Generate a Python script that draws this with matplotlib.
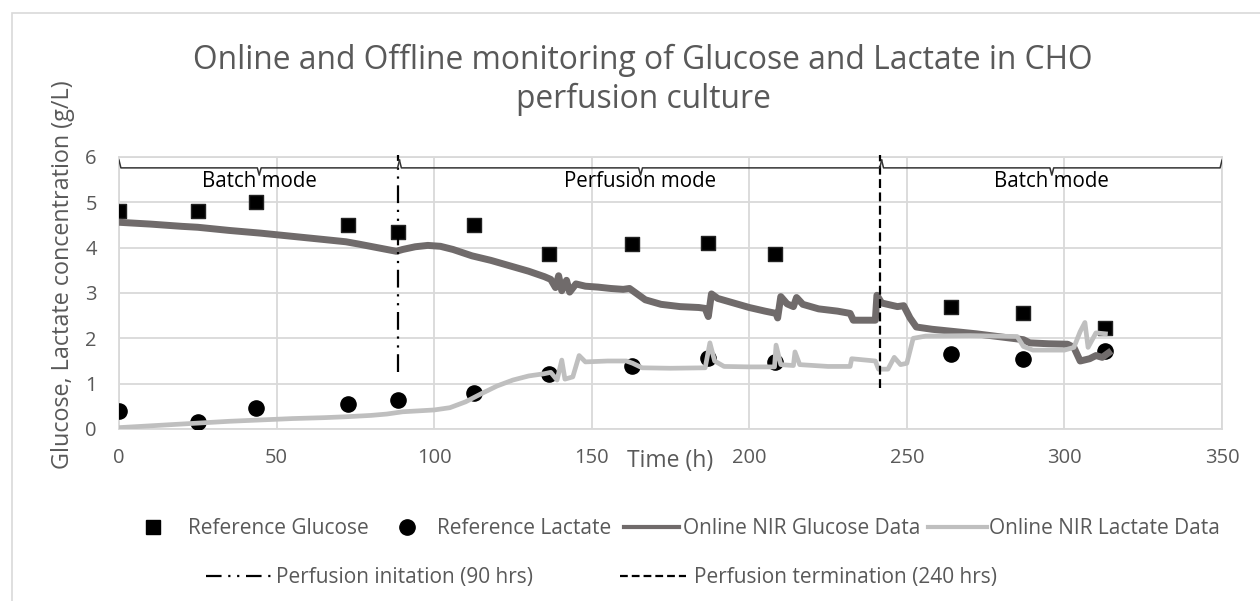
import matplotlib
matplotlib.use('Agg')
import matplotlib.pyplot as plt
from matplotlib.lines import Line2D
from matplotlib.patches import Rectangle

plt.rcParams['font.family'] = ['Open Sans', 'DejaVu Sans']

# offline reference samples
ref_t = [0, 25, 43.5, 72.7, 88.5, 112.7, 136.5, 162.8, 186.9, 208.2, 264, 287, 313]
ref_glucose = [4.8, 4.8, 5.0, 4.5, 4.35, 4.5, 3.85, 4.07, 4.1, 3.85, 2.7, 2.55, 2.22]
ref_lactate = [0.4, 0.15, 0.46, 0.56, 0.65, 0.8, 1.22, 1.38, 1.57, 1.47, 1.65, 1.55, 1.72]

# online NIR glucose
nir_glu_t = [0, 10, 20, 25, 35, 45, 55, 65, 72, 76, 82, 88, 90, 94, 98, 102, 106, 112,
             118, 125, 130, 135, 137, 138.5, 139.5, 140.5, 142, 143, 145, 148, 152, 156,
             160, 162, 164, 167, 172, 178, 184, 186, 187, 188, 190, 195, 200, 205, 208.5,
             209, 210, 212, 214, 215, 217, 222, 228, 232, 233, 240, 240.5, 242, 247, 249,
             251, 253, 258, 265, 272, 280, 287, 289, 295, 301, 303, 305, 308, 310, 312, 314]
nir_glu = [4.56, 4.52, 4.47, 4.45, 4.38, 4.32, 4.25, 4.18, 4.13, 4.08, 4.0, 3.92, 3.96,
           4.02, 4.05, 4.03, 3.96, 3.82, 3.72, 3.58, 3.48, 3.36, 3.3, 3.12, 3.38, 3.05,
           3.28, 3.02, 3.2, 3.15, 3.13, 3.1, 3.08, 3.1, 3.0, 2.85, 2.75, 2.7, 2.68, 2.66,
           2.48, 2.98, 2.88, 2.78, 2.68, 2.6, 2.55, 2.45, 2.92, 2.76, 2.7, 2.9, 2.75, 2.65,
           2.6, 2.55, 2.4, 2.4, 2.95, 2.78, 2.7, 2.72, 2.45, 2.25, 2.2, 2.15, 2.1, 2.03,
           1.97, 1.9, 1.88, 1.87, 1.8, 1.5, 1.55, 1.62, 1.58, 1.68]

# online NIR lactate
nir_lac_t = [0, 10, 20, 25, 35, 45, 55, 65, 72, 80, 85, 90, 95, 100, 105, 110, 115, 120,
             125, 130, 135, 137, 139, 140.5, 141.5, 144, 146, 148, 155, 161, 163, 166, 175,
             186, 187.5, 189, 192, 200, 208, 208.5, 210, 214, 214.5, 216, 225, 232, 232.5,
             240, 241, 244, 246, 248, 250, 252, 256, 270, 285, 287, 290, 300, 303, 305,
             306.5, 307.5, 310, 313]
nir_lac = [0.03, 0.07, 0.11, 0.13, 0.17, 0.2, 0.23, 0.25, 0.27, 0.3, 0.33, 0.38, 0.4,
           0.42, 0.47, 0.6, 0.78, 0.95, 1.08, 1.17, 1.22, 1.25, 1.08, 1.52, 1.1, 1.15,
           1.62, 1.48, 1.5, 1.5, 1.45, 1.35, 1.34, 1.35, 1.9, 1.5, 1.38, 1.37, 1.37, 1.85,
           1.42, 1.4, 1.7, 1.42, 1.38, 1.38, 1.55, 1.5, 1.32, 1.32, 1.58, 1.42, 1.45, 2.0,
           2.05, 2.06, 2.04, 1.82, 1.74, 1.74, 1.8, 2.15, 2.35, 1.8, 2.12, 2.1]

# culture phases
phase_edges = [0, 89, 242, 350]
phase_names = ['Batch mode', 'Perfusion mode', 'Batch mode']
perf_start = 88.5
perf_end = 241.5

txt = '#595959'
grid_c = '#d9d9d9'

fig = plt.figure(figsize=(12.6, 6.01), dpi=100)
renderer = fig.canvas.get_renderer()


def fit_font(artist, target_px, along='w'):
    # rescale font so the rendered text spans target_px
    ext = artist.get_window_extent(renderer)
    size = ext.width if along == 'w' else ext.height
    artist.set_fontsize(artist.get_fontsize() * target_px / size)


ax = fig.add_axes([119 / 1260, 1 - 429 / 601, 1103 / 1260, 272 / 601])

# chart border
fig.patches.append(Rectangle((12 / 1260, -0.1), 1.2, 1.1 - 13 / 601,
                             transform=fig.transFigure, fill=False,
                             edgecolor=grid_c, lw=1.2))

ax.scatter(ref_t, ref_glucose, marker='s', s=100, c='black', edgecolors='#222222',
           zorder=3)
ax.scatter(ref_t, ref_lactate, marker='o', s=120, c='black', zorder=3)
ax.plot(nir_glu_t, nir_glu, color='#706b6b', lw=5, zorder=4, solid_joinstyle='round')
ax.plot(nir_lac_t, nir_lac, color='#bfbfbf', lw=3.4, zorder=5, solid_joinstyle='round')

# perfusion start / end markers
ax.plot([perf_start, perf_start], [1.26, 6.05], color='black', lw=1.6,
        ls=(0, (8, 3, 1, 3, 1, 3)), zorder=6, clip_on=False)
ax.plot([perf_end, perf_end], [0.9, 6.05], color='black', lw=1.6,
        ls=(0, (4, 2)), zorder=6, clip_on=False)

# braces with phase names
for a, b, name in zip(phase_edges[:-1], phase_edges[1:], phase_names):
    mid = (a + b) / 2
    xs = [a, a + 0.6, mid - 0.6, mid, mid + 0.6, b - 0.6, b]
    ys = [5.93, 5.76, 5.76, 5.6, 5.76, 5.76, 5.93]
    ax.plot(xs, ys, color='#333333', lw=1.1, zorder=6)
    ax.text(mid, 5.47, name, ha='center', va='center', fontsize=14.8, color='black')

ax.set_xlim(0, 350)
ax.set_ylim(0, 6)
ax.set_xticks(range(0, 351, 50))
ax.set_yticks(range(0, 7))
ax.grid(True, color=grid_c, lw=1.3)
ax.set_axisbelow(True)
for sp in ax.spines.values():
    sp.set_color(grid_c)
    sp.set_linewidth(1.3)
ax.tick_params(length=0, labelsize=14.5, labelcolor=txt)
ax.tick_params(axis='y', pad=16)
ax.tick_params(axis='x', pad=14)

ax.set_xlabel('Time (h)', fontsize=16.5, color=txt)
ax.xaxis.set_label_coords(0.5, -0.118)
ax.xaxis.label.set_va('center')
ax.set_ylabel('Glucose, Lactate concentration (g/L)', fontsize=16, color=txt)
ax.yaxis.set_label_coords(-0.051, 0.566)
ax.yaxis.label.set_va('center')
fit_font(ax.yaxis.label, 390, along='h')

title = fig.text(643 / 1260, 1 - 80 / 601,
                 'Online and Offline monitoring of Glucose and Lactate in CHO\nperfusion culture',
                 ha='center', va='center', fontsize=22, color=txt, linespacing=1.25)
fit_font(title, 900)

# legend font sized so 'Reference Glucose' spans ~180 px
probe = fig.text(0, 0, 'Reference Glucose', fontsize=12)
fit_font(probe, 180)
leg_fs = probe.get_fontsize()
probe.remove()

# legend entries: handle, label, handle start px, handle length, text start px, row y px
entries = [
    (Line2D([], [], marker='s', ls='none', color='black', ms=10), 'Reference Glucose',
     143, 1.0, 188, 529),
    (Line2D([], [], marker='o', ls='none', color='black', ms=11), 'Reference Lactate',
     397, 1.0, 437, 529),
    (Line2D([], [], color='#706b6b', lw=3), 'Online NIR Glucose Data', 624, 55, 683, 529),
    (Line2D([], [], color='#bfbfbf', lw=3), 'Online NIR Lactate Data', 928, 59, 989, 529),
    (Line2D([], [], color='black', lw=1.6, ls=(0, (7, 3, 1, 3, 1, 3))),
     'Perfusion initation (90 hrs)', 206, 66, 276, 578),
    (Line2D([], [], color='black', lw=1.6, ls=(0, (3.5, 1.8))),
     'Perfusion termination (240 hrs)', 620, 66, 694, 578),
]
em = leg_fs * 100 / 72
for h, lab, x0, hlen, xt, yrow in entries:
    hl = hlen if hlen < 5 else hlen / em
    pad = (xt - x0 - hl * em) / em
    fig.legend([h], [lab], loc='center left',
               bbox_to_anchor=(x0 / 1260, 1 - yrow / 601), frameon=False,
               fontsize=leg_fs, labelcolor=txt, handlelength=hl, handletextpad=pad,
               borderpad=0, borderaxespad=0)

fig.savefig('out.png', dpi=100)
